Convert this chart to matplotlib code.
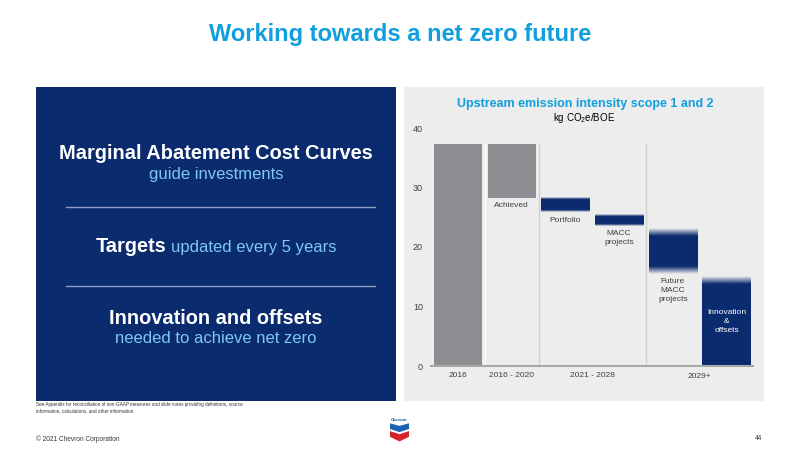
import numpy as np
import matplotlib
matplotlib.use('Agg')
import matplotlib.pyplot as plt
from matplotlib.patches import Rectangle, Polygon
from matplotlib.lines import Line2D
from matplotlib.colors import to_rgb

plt.rcParams['font.family'] = ['Liberation Sans', 'DejaVu Sans']
plt.rcParams['mathtext.fontset'] = 'custom'
plt.rcParams['mathtext.rm'] = 'Liberation Sans'
plt.rcParams['mathtext.it'] = 'Liberation Sans:italic'

# --- data (kg CO2e/BOE) ---
steps = ['2016', 'Achieved', 'Portfolio', 'MACC\nprojects',
         'Future\nMACC\nprojects', 'Innovation\n&\noffsets']
tops = [37.3, 37.3, 28.3, 25.5, 23.2, 15.0]
bottoms = [0, 28.3, 25.8, 23.5, 15.5, 0]
is_past = [True, True, False, False, False, False]
periods = ['2016', '2016 - 2020', '2021 - 2028', '2029+']
period_pos = [0, 1, 2.5, 4.5]
dividers = [0.5, 1.5, 3.5]
yticks = [0, 10, 20, 30, 40]

# style
BLUE = '#0F9FDE'
NAVY = '#0B2B6F'
LIGHTBLUE = '#7CC8F2'
PANEL = '#EDEDED'
GRAY = '#8D8E91'
TXT = '#404040'
fade_top = [0, 0, 0.35, 0.35, 1.3, 1.3]
fade_bot = [0, 0, 0.35, 0.35, 1.3, 0]

W, H = 800, 450
fig = plt.figure(figsize=(8, 4.5), dpi=100)
fig.patch.set_facecolor('white')

def fx(px):
    return px / W

def fy(py):
    return 1 - py / H

# title
fig.text(0.5, fy(35), 'Working towards a net zero future', ha='center', va='center',
         fontsize=17, fontweight='bold', color=BLUE)

# left navy panel
fig.patches.append(Rectangle((fx(36), fy(401)), fx(396 - 36), (401 - 87) / H,
                             transform=fig.transFigure, facecolor=NAVY, edgecolor='none', zorder=-2))
fig.text(fx(216), fy(159), 'Marginal Abatement Cost Curves', ha='center', va='baseline',
         fontsize=14.4, fontweight='bold', color='white')
fig.text(fx(216), fy(179), 'guide investments', ha='center', va='baseline',
         fontsize=12, color=LIGHTBLUE)
for ly in (207, 286):
    fig.lines.append(Line2D([fx(66), fx(375)], [fy(ly), fy(ly)], transform=fig.transFigure,
                            color='#8E9CBE', lw=1))
fig.text(fx(166), fy(252), 'Targets', ha='right', va='baseline',
         fontsize=14.4, fontweight='bold', color='white')
fig.text(fx(171), fy(252), 'updated every 5 years', ha='left', va='baseline',
         fontsize=12, color=LIGHTBLUE)
fig.text(fx(216), fy(324), 'Innovation and offsets', ha='center', va='baseline',
         fontsize=14.4, fontweight='bold', color='white')
fig.text(fx(216), fy(343), 'needed to achieve net zero', ha='center', va='baseline',
         fontsize=12, color=LIGHTBLUE)

# right gray panel
fig.patches.append(Rectangle((fx(404), fy(401)), fx(764 - 404), (401 - 87) / H,
                             transform=fig.transFigure, facecolor=PANEL, edgecolor='none', zorder=-2))
fig.text(fx(585), fy(104), 'Upstream emission intensity scope 1 and 2', ha='center', va='center',
         fontsize=9, fontweight='bold', color=BLUE)
fig.text(fx(584), fy(118), r'kg CO$_2$e/BOE', ha='center', va='center', fontsize=7, color='black')

# chart
ax = fig.add_axes([fx(431.2), fy(366), fx(753.3 - 431.2), (366 - 128) / H])
ax.set_zorder(2)
ax.patch.set_visible(False)
navy_rgb = to_rgb(NAVY)
for i in range(len(steps)):
    if is_past[i]:
        ax.bar(i, tops[i] - bottoms[i], bottom=bottoms[i], width=0.9, color=GRAY, zorder=2)
    else:
        y = np.linspace(bottoms[i], tops[i], 300)
        a = np.ones_like(y)
        if fade_top[i] > 0:
            a = np.minimum(a, (tops[i] - y) / fade_top[i])
        if fade_bot[i] > 0:
            a = np.minimum(a, (y - bottoms[i]) / fade_bot[i])
        img = np.zeros((len(y), 1, 4))
        img[..., :3] = navy_rgb
        img[..., 3] = np.clip(a, 0, 1)[:, None]
        ax.imshow(img, extent=(i - 0.45, i + 0.45, bottoms[i], tops[i]), origin='lower',
                  aspect='auto', interpolation='bilinear', zorder=2)

for k, d in enumerate(dividers):
    ax.plot([d, d], [0, tops[0]], color='white' if k == 0 else '#CFCFCF', lw=1, zorder=1)

for i in range(1, 5):
    ax.annotate(steps[i], (i, bottoms[i]), xytext=(0, -3), textcoords='offset points',
                ha='center', va='top', fontsize=6, color=TXT, linespacing=1.4)
ax.text(5, tops[5] / 2, steps[5], ha='center', va='center', fontsize=6, color='white',
        linespacing=1.4, zorder=3)

for p, lab in zip(period_pos, periods):
    dy = -7.3 if lab == '2029+' else -6.5
    ax.annotate(lab, (p, 0), xytext=(0, dy), textcoords='offset points', ha='center',
                va='center', fontsize=6, color=TXT, annotation_clip=False)

ax.set_xlim(-0.5, 5.5)
ax.set_ylim(0, 40)
ax.set_xticks([])
ax.set_yticks(yticks)
ax.tick_params(axis='y', length=0, pad=6, labelsize=6.5, labelcolor=TXT)
for s in ('top', 'right', 'left'):
    ax.spines[s].set_visible(False)
ax.spines['bottom'].set_color('#A8A8A8')
ax.spines['bottom'].set_linewidth(1.5)

# footnotes
fig.text(fx(36), fy(407.5), 'See Appendix for reconciliation of non-GAAP measures and slide notes providing definitions, source\n'
         'information, calculations, and other information.', ha='left', va='center',
         fontsize=3.3, color='#333333', linespacing=1.3)
fig.text(fx(36), fy(439), '\u00a9 2021 Chevron Corporation', ha='left', va='center',
         fontsize=4.7, color='#333333')
fig.text(fx(762), fy(438), '44', ha='right', va='center', fontsize=4.7, color='#333333')

# small logo
lax = fig.add_axes([fx(387), fy(442), fx(25), 26 / H])
lax.set_xlim(0, 1)
lax.set_ylim(0, 1)
lax.axis('off')
lax.text(0.5, 0.86, 'Chevron', ha='center', va='center', fontsize=3, color='#1A4FA0', fontweight='bold')
lax.add_patch(Polygon([(0.12, 0.72), (0.5, 0.62), (0.88, 0.72), (0.88, 0.5), (0.5, 0.38), (0.12, 0.5)],
                      facecolor='#1E62B5', edgecolor='none'))
lax.add_patch(Polygon([(0.12, 0.42), (0.5, 0.30), (0.88, 0.42), (0.88, 0.2), (0.5, 0.02), (0.12, 0.2)],
                      facecolor='#D8232F', edgecolor='none'))

fig.savefig('out.png', dpi=100)
